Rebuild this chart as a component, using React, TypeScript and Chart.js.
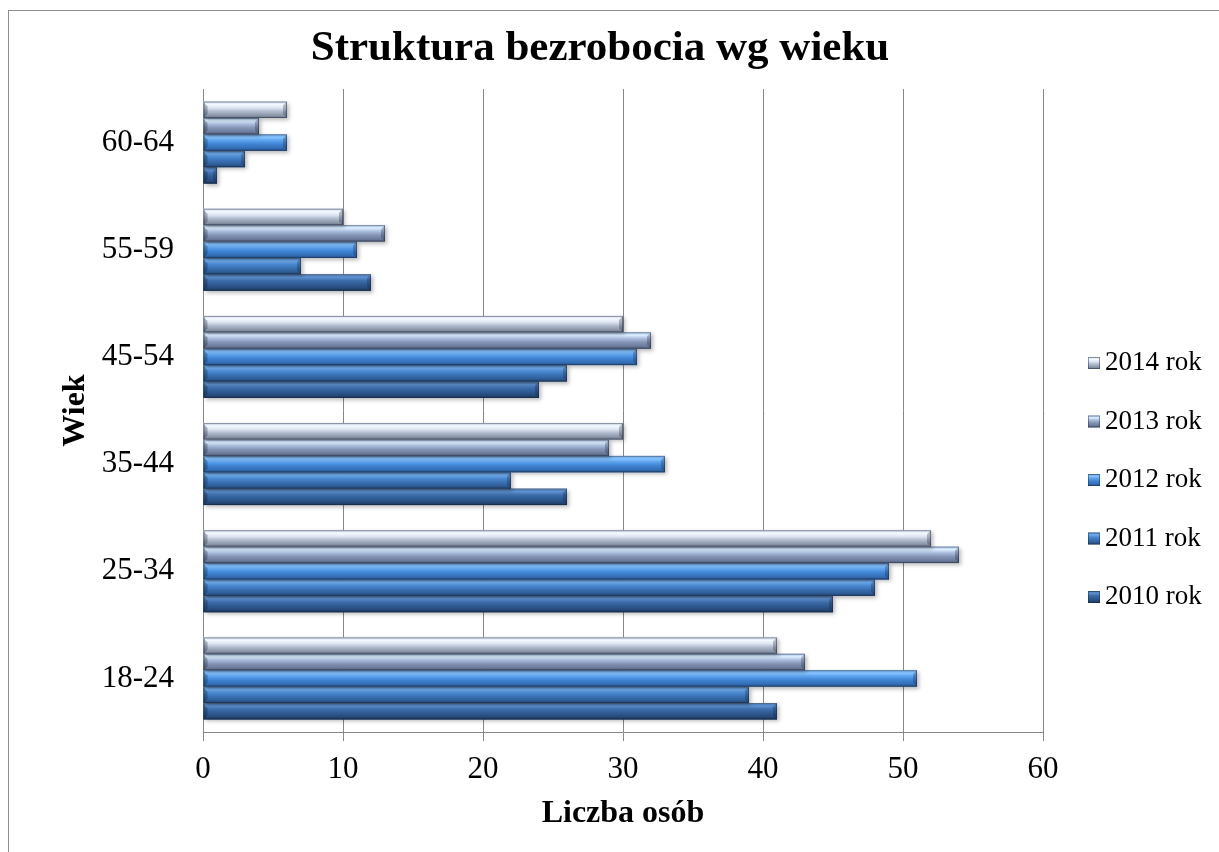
import React, { useEffect, useRef } from 'react';
import { Chart, registerables } from 'chart.js';

Chart.register(...registerables);

const categories = ['18-24', '25-34', '35-44', '45-54', '55-59', '60-64'];
const seriesNames = ['2010 rok', '2011 rok', '2012 rok', '2013 rok', '2014 rok'];
const values2010 = [41, 45, 26, 24, 12, 1];
const values2011 = [39, 48, 22, 26, 7, 3];
const values2012 = [51, 49, 33, 31, 11, 6];
const values2013 = [43, 54, 29, 32, 13, 4];
const values2014 = [41, 52, 30, 30, 10, 6];
const seriesValues = [values2010, values2011, values2012, values2013, values2014];
const xMin = 0;
const xMax = 60;
const xStep = 10;

const titleText = 'Struktura bezrobocia wg wieku';
const xTitle = 'Liczba osób';
const yTitle = 'Wiek';

const FONT = "'Liberation Serif', 'Times New Roman', serif";

// vertical gradient stops (top -> bottom) for each series
const barShades = [
  ['#4474b0', '#5f92d2', '#3d6dab', '#305c95', '#274c7d', '#1c3559'],
  ['#4a86cc', '#72aeee', '#4a88d0', '#3a72b5', '#2f5f99', '#22446f'],
  ['#5c9ce6', '#88c4ff', '#5aa0ec', '#3f83d2', '#3570b8', '#27548c'],
  ['#a9c6ee', '#dcefff', '#a9bcdd', '#8595b6', '#6f7e9f', '#56627f'],
  ['#cfd9ec', '#f4f9ff', '#dde5f2', '#b0bacd', '#8f99ac', '#6e778a'],
];
const baseColors = ['#2f5b93', '#3a72b5', '#3f83d2', '#8595b6', '#b0bacd'];

// datasets ordered so that the latest year sits at the top of each group
const datasetOrder = [4, 3, 2, 1, 0];

function makeGradient(ctx: CanvasRenderingContext2D, shades: string[], yt: number, yb: number) {
  const g = ctx.createLinearGradient(0, yt, 0, yb);
  const pos = [0, 0.18, 0.38, 0.6, 0.82, 1];
  shades.forEach((c, i) => g.addColorStop(pos[i], c));
  return g;
}

const bevelPlugin = {
  id: 'bevelBars',
  afterDatasetDraw(chart: any, args: any) {
    const ctx: CanvasRenderingContext2D = chart.ctx;
    const seriesIdx = chart.data.datasets[args.index].seriesIdx;
    const shades = barShades[seriesIdx];
    const area = chart.chartArea;
    ctx.save();
    ctx.beginPath();
    ctx.rect(area.left, area.top - 2, area.right - area.left + 20, area.bottom - area.top + 10);
    ctx.clip();
    args.meta.data.forEach((el: any) => {
      const { x, y, base, height } = el.getProps(['x', 'y', 'base', 'height'], true);
      const x0 = Math.min(base, x);
      const x1 = Math.max(base, x);
      const yt = y - height / 2;
      const yb = y + height / 2;
      const w = x1 - x0;
      ctx.save();
      ctx.shadowColor = 'rgba(0,0,0,0.28)';
      ctx.shadowBlur = 4;
      ctx.shadowOffsetX = 2;
      ctx.shadowOffsetY = 2;
      ctx.fillStyle = makeGradient(ctx, shades, yt, yb);
      ctx.fillRect(x0, yt, w, height);
      ctx.restore();
      const b = Math.min(4, w / 2, height / 2);
      // right facet
      ctx.beginPath();
      ctx.moveTo(x1, yt);
      ctx.lineTo(x1, yb);
      ctx.lineTo(x1 - b, yb - b);
      ctx.lineTo(x1 - b, yt + b);
      ctx.closePath();
      ctx.fillStyle = 'rgba(20,30,50,0.28)';
      ctx.fill();
      // left facet
      ctx.beginPath();
      ctx.moveTo(x0, yt + 1);
      ctx.lineTo(x0 + b, yt + b + 1);
      ctx.lineTo(x0 + b, yb - b);
      ctx.lineTo(x0, yb);
      ctx.closePath();
      ctx.fillStyle = 'rgba(10,20,40,0.3)';
      ctx.fill();
      // top edge line
      ctx.fillStyle = 'rgba(255,255,255,0.35)';
      ctx.fillRect(x0, yt, w, 1);
      // outline
      ctx.strokeStyle = 'rgba(20,35,60,0.45)';
      ctx.lineWidth = 1;
      ctx.strokeRect(x0 + 0.5, yt + 0.5, w - 1, height - 1);
    });
    ctx.restore();
  },
};

const decorPlugin = {
  id: 'decor',
  afterDraw(chart: any) {
    const ctx: CanvasRenderingContext2D = chart.ctx;
    const area = chart.chartArea;
    ctx.save();
    // title
    ctx.font = `bold 43px ${FONT}`;
    ctx.fillStyle = '#000';
    ctx.textAlign = 'center';
    ctx.textBaseline = 'middle';
    ctx.fillText(titleText, 600, 49);

    // legend (latest year on top)
    const boxX = area.right + 45;
    const textX = boxX + 17;
    const firstY = 363;
    const step = 58.5;
    ctx.font = `27px ${FONT}`;
    ctx.textAlign = 'left';
    const n = seriesNames.length;
    for (let r = 0; r < n; r++) {
      const k = n - 1 - r;
      const cy = firstY + step * r;
      const size = 12;
      const yt = cy - size / 2;
      ctx.fillStyle = makeGradient(ctx, barShades[k], yt, yt + size);
      ctx.fillRect(boxX, yt, size, size);
      ctx.strokeStyle = 'rgba(20,35,60,0.45)';
      ctx.lineWidth = 1;
      ctx.strokeRect(boxX + 0.5, yt + 0.5, size - 1, size - 1);
      ctx.fillStyle = '#000';
      ctx.fillText(seriesNames[k], textX, cy);
    }
    ctx.restore();
  },
};

export default function App() {
  const canvasRef = useRef<HTMLCanvasElement | null>(null);

  useEffect(() => {
    if (!canvasRef.current) return;
    const chart = new Chart(canvasRef.current, {
      type: 'bar',
      data: {
        labels: categories,
        datasets: datasetOrder.map((i) => ({
          label: seriesNames[i],
          seriesIdx: i,
          data: seriesValues[i],
          backgroundColor: baseColors[i],
          borderWidth: 0,
          categoryPercentage: 0.765,
          barPercentage: 1,
        })),
      },
      options: {
        indexAxis: 'y',
        responsive: false,
        animation: false,
        devicePixelRatio: 1,
        layout: { padding: { left: 0, right: 176, top: 89, bottom: 0 } },
        plugins: {
          legend: { display: false },
          tooltip: { enabled: false },
          title: { display: false },
        },
        scales: {
          x: {
            type: 'linear',
            min: xMin,
            max: xMax,
            ticks: {
              stepSize: xStep,
              color: '#000',
              padding: 10,
              font: { family: FONT, size: 31 },
            },
            grid: {
              display: true,
              color: '#878787',
              lineWidth: 1,
              drawTicks: true,
              tickLength: 9,
            },
            border: { display: true, color: '#878787', width: 1 },
            title: {
              display: true,
              text: xTitle,
              color: '#000',
              font: { family: FONT, size: 32, weight: 'bold' },
              padding: { top: 0, bottom: 19 },
            },
            afterFit: (scale: any) => {
              scale.height = 120;
            },
          },
          y: {
            type: 'category',
            reverse: true,
            ticks: {
              color: '#000',
              padding: 29,
              font: { family: FONT, size: 31 },
            },
            grid: { display: false, drawTicks: false, tickLength: 0 },
            border: { display: true, color: '#878787', width: 1 },
            title: {
              display: true,
              text: yTitle,
              color: '#000',
              font: { family: FONT, size: 32, weight: 'bold' },
              padding: { top: 57, bottom: 0 },
            },
            afterFit: (scale: any) => {
              scale.width = 203;
            },
          },
        },
      },
      plugins: [bevelPlugin, decorPlugin],
    } as any);
    return () => chart.destroy();
  }, []);

  return (
    <div style={{ position: 'fixed', left: 0, top: 0, width: 1219, height: 852, background: '#fff' }}>
      <div
        style={{
          position: 'absolute',
          left: 8,
          top: 10,
          width: 1300,
          height: 900,
          border: '1px solid #8e8e8e',
          pointerEvents: 'none',
        }}
      />
      <canvas ref={canvasRef} width={1219} height={852} style={{ position: 'absolute', left: 0, top: 0, display: 'block' }} />
    </div>
  );
}
